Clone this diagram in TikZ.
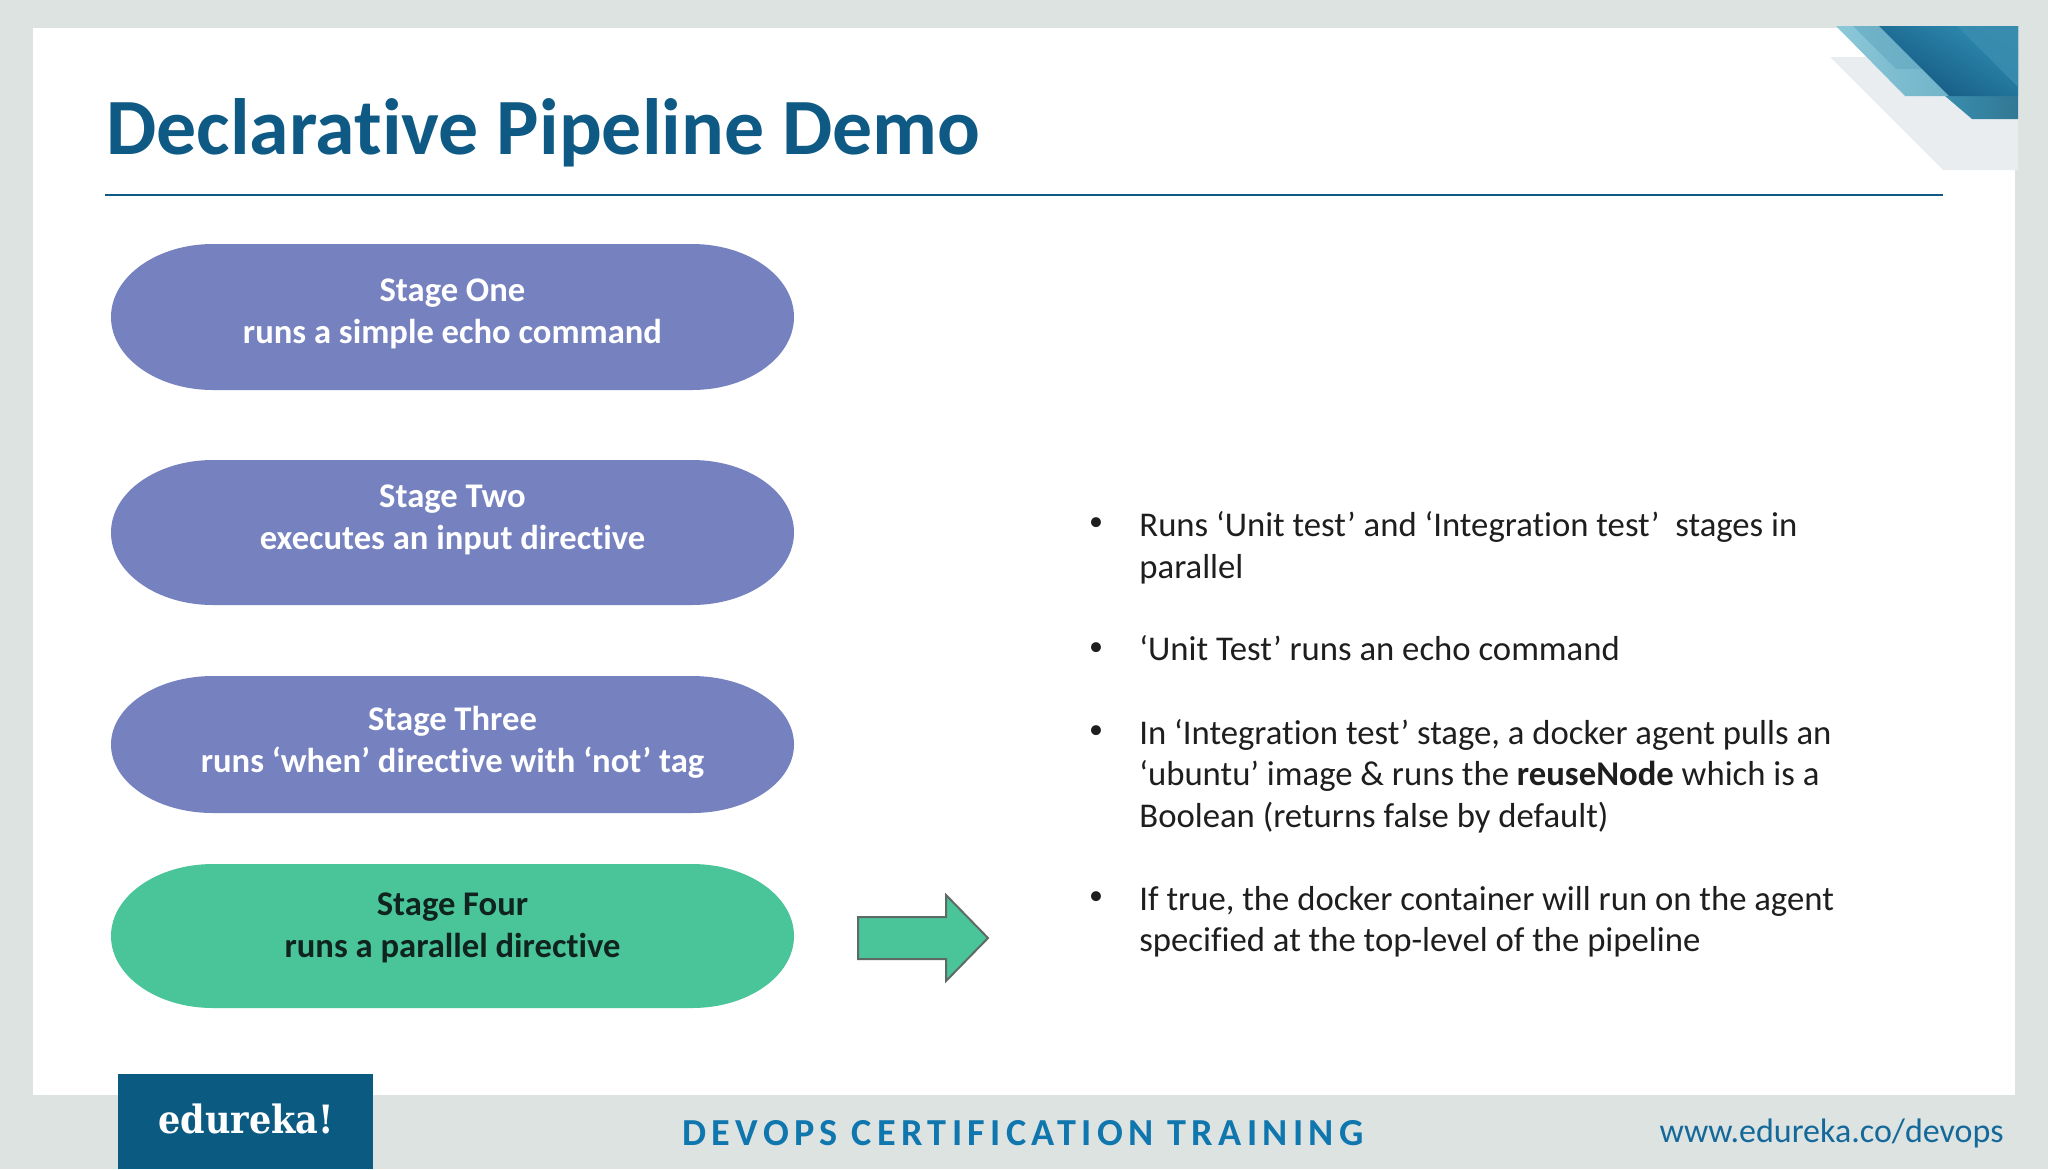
\documentclass[tikz,border=0pt]{standalone}
\usepackage{fontspec}
\setmainfont[Ligatures=NoCommon]{Carlito}
\newfontfamily\logofont{DejaVu Serif}
\newfontfamily\spacedfont[LetterSpace=14,Ligatures=NoCommon]{Carlito}
\definecolor{pagebg}{HTML}{DDE3E1}
\definecolor{titleblue}{HTML}{0E5A85}
\definecolor{footblue}{HTML}{0F76AE}
\definecolor{urlblue}{HTML}{15699A}
\definecolor{logoblue}{HTML}{0B5A82}
\definecolor{pillblue}{HTML}{7681C0}
\definecolor{pillgreen}{HTML}{4AC59A}
\definecolor{bodytext}{HTML}{1E1E1E}
\definecolor{darktext}{HTML}{10241F}
\definecolor{paleshape}{HTML}{E9EDF0}
\definecolor{tealA}{HTML}{8CC8D8}
\definecolor{tealB}{HTML}{5FA6BF}
\definecolor{tealC}{HTML}{2E8DB2}
\definecolor{tealD}{HTML}{14557F}
\definecolor{tealE}{HTML}{3A8DAE}
\definecolor{arrowedge}{HTML}{5E6A66}
\newcommand{\pillpath}[5]{%
  \pgfmathsetmacro{\pry}{(#4-#2)/2}%
  \pgfmathsetmacro{\pky}{\pry*0.4477}%
  \fill[#5] ({#1+102},#2) -- ({#3-102},#2)
    .. controls ({#3-45.7},#2) and (#3,{#2+\pky}) .. (#3,{#2+\pry})
    .. controls (#3,{#4-\pky}) and ({#3-45.7},#4) .. ({#3-102},#4)
    -- ({#1+102},#4)
    .. controls ({#1+45.7},#4) and (#1,{#4-\pky}) .. (#1,{#2+\pry})
    .. controls (#1,{#2+\pky}) and ({#1+45.7},#2) .. ({#1+102},#2) -- cycle;}
\tikzset{
  x=0.5pt,y=-0.5pt,
  pilltext/.style={font=\fontsize{17.3}{20.9}\selectfont\bfseries,text=white,align=center,inner sep=0pt},
  bullettext/.style={font=\fontsize{17.35}{20.7}\selectfont,text=bodytext,align=left,anchor=north west,inner sep=0pt},
  bulletmark/.style={font=\fontsize{14}{16}\selectfont,text=bodytext,inner sep=0pt},
}
\begin{document}
\begin{tikzpicture}
\useasboundingbox (0,0) rectangle (2048,1169);
\fill[pagebg] (0,0) rectangle (2048,1169);
\fill[white] (33,28) rectangle (2015,1095);
% corner decoration
\fill[paleshape] (1830,57) -- (2018,57) -- (2018,170) -- (1943,170) -- cycle;
\shade[left color=tealA,right color=tealB] (1836,26) -- (2018,26) -- (2018,96) -- (1905,96) -- cycle;
\fill[tealB,opacity=.55] (1853,26) -- (1900,26) -- (1960,69) -- (1896,69) -- cycle;
\shade[left color=tealE,right color=tealE!85!black] (1945,96) -- (2018,96) -- (2018,119) -- (1972,119) -- cycle;
\shade[top color=tealC,bottom color=tealD,shading angle=-30] (1879,26) -- (2018,26) -- (2018,96) -- (1949,96) -- cycle;
\fill[tealE,opacity=.85] (1957,26) -- (2018,26) -- (2018,87) -- cycle;
% title and rule
\node[anchor=base west,inner sep=0pt,font=\fontsize{39.9}{44}\selectfont\bfseries,text=titleblue] (title) at (106,154) {Declarative Pipeline Demo};
\coordinate (ruleL) at (105,195);
\coordinate (ruleR) at (1943,195);
\draw[titleblue,line width=0.9pt] (ruleL) -- (ruleR);
% pills
\pillpath{111}{244}{794}{390}{pillblue}
\pillpath{111}{460}{794}{605}{pillblue}
\pillpath{111}{676}{794}{813}{pillblue}
\pillpath{111}{864}{794}{1008}{pillgreen}
\node[pilltext] (t1) at (452.5,313.5) {Stage One\\runs a simple echo command};
\node[pilltext] (t2) at (452.5,519.5) {Stage Two\\executes an input directive};
\node[pilltext] (t3) at (452.5,742.5) {Stage Three\\runs ‘when’ directive with ‘not’ tag};
\node[pilltext,text=darktext] (t4) at (452.5,927.5) {Stage Four\\runs a parallel directive};
% arrow
\draw[fill=pillgreen,draw=arrowedge,line width=1pt,line join=miter] (858,917) -- (946,917) -- (946,895) -- (988,938) -- (946,981) -- (946,959) -- (858,959) -- cycle;
% bullets
\node[bulletmark] (b1) at (1096,524) {•};
\node[bullettext] (l1) at (1139,511.5) {Runs ‘Unit test’ and ‘Integration test’\ \ stages in\\parallel};
\node[bulletmark] (b2) at (1096,649) {•};
\node[bullettext] (l2) at (1139,635.5) {‘Unit Test’ runs an echo command};
\node[bulletmark] (b3) at (1096,732) {•};
\node[bullettext] (l3) at (1139,719) {In ‘Integration test’ stage, a docker agent pulls an\\‘ubuntu’ image \& runs the \textbf{reuseNode} which is a\\Boolean (returns false by default)};
\node[bulletmark] (b4) at (1096,898) {•};
\node[bullettext] (l4) at (1139,886) {If true, the docker container will run on the agent\\specified at the top-level of the pipeline};
% footer
\fill[logoblue] (118,1074) rectangle (373,1169);
\node[font=\logofont\fontsize{19.5}{22}\selectfont\bfseries,text=white,inner sep=0pt] (logo) at (246,1119) {\scalebox{.9}[1]{edureka!}};
\node[font=\spacedfont\fontsize{19.1}{22}\selectfont\bfseries,text=footblue,inner sep=0pt] (foot) at (1023,1133) {DEVOPS CERTIFICATION TRAINING};
\node[font=\fontsize{17}{20}\selectfont,text=urlblue,inner sep=0pt,anchor=east] (url) at (2004,1133) {www.edureka.co/devops};
\end{tikzpicture}
\end{document}
